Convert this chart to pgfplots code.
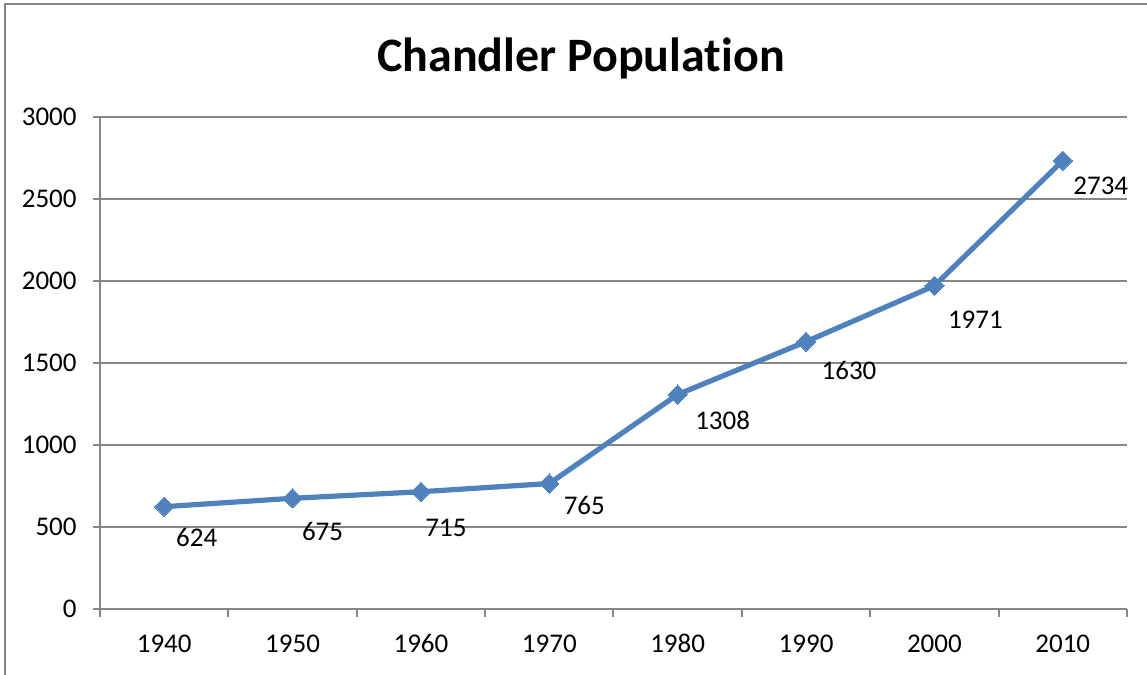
\documentclass[border=0pt]{standalone}
\usepackage{fontspec}
\setmainfont{Carlito}[Ligatures=NoCommon]
\usepackage{pgfplots}
\pgfplotsset{compat=1.18}
\usepackage{pgfplotstable}
\definecolor{xlblue}{HTML}{4F81BD}
\definecolor{xlgray}{HTML}{868686}
\pgfplotstableread{
x year pop dx dy
1 1940 624 16.25 -15.5
2 1950 675 15 -16.5
3 1960 715 12.5 -18
4 1970 765 17.5 -11
5 1980 1308 22.5 -13
6 1990 1630 21.5 -14.5
7 2000 1971 20.5 -17
8 2010 2734 19 -12.5
}\datatable
\begin{document}
\begin{tikzpicture}
\useasboundingbox (0,0) rectangle (573.5pt,337.5pt);
\draw[xlgray, line width=1pt] (2.5pt,0) -- (2.5pt,335.5pt) -- (573.5pt,335.5pt);
\node[font=\fontsize{24}{28}\selectfont\bfseries] at (290.5pt,308.5pt) {Chandler Population};
\begin{axis}[
  at={(50pt,33pt)}, anchor=south west,
  scale only axis, width=513.5pt, height=246pt,
  xmin=0.5, xmax=8.5, ymin=0, ymax=3000,
  xtick={1,...,8}, xticklabels={1940,1950,1960,1970,1980,1990,2000,2010},
  minor xtick={0.5,1.5,...,8.5},
  ytick={0,500,...,3000},
  axis x line*=bottom, axis y line*=left,
  axis line style={xlgray, line width=1pt, -},
  ymajorgrids, grid style={xlgray, line width=1pt},
  tick align=outside,
  major tick length=3.5pt, minor tick length=4pt,
  every tick/.style={xlgray, line width=1pt},
  xtick style={draw=none},
  minor x tick style={draw=xlgray, line width=1pt},
  tick label style={font=\fontsize{13.5}{16}\selectfont, black},
  /pgf/number format/assume math mode=true,
  /pgf/number format/set thousands separator={},
  yticklabel style={anchor=east, inner sep=0pt, xshift=-8pt},
  xticklabel style={anchor=base, inner sep=0pt, yshift=-18.5pt},
  clip=false,
]
\addplot[xlblue, line width=2.6pt, mark=square*, mark size=3.4pt,
  mark options={rotate=45, fill=xlblue, draw=xlblue, line width=0pt},
  visualization depends on={\thisrow{dx} \as \dx},
  visualization depends on={\thisrow{dy} \as \dy},
  nodes near coords,
  point meta=explicit symbolic,
  every node near coord/.style={anchor=center, inner sep=0pt, black,
    font=\fontsize{13.5}{16}\selectfont, xshift=\dx pt, yshift=\dy pt}
] table[x=x, y=pop, meta=pop] {\datatable};
\end{axis}
\end{tikzpicture}
\end{document}
